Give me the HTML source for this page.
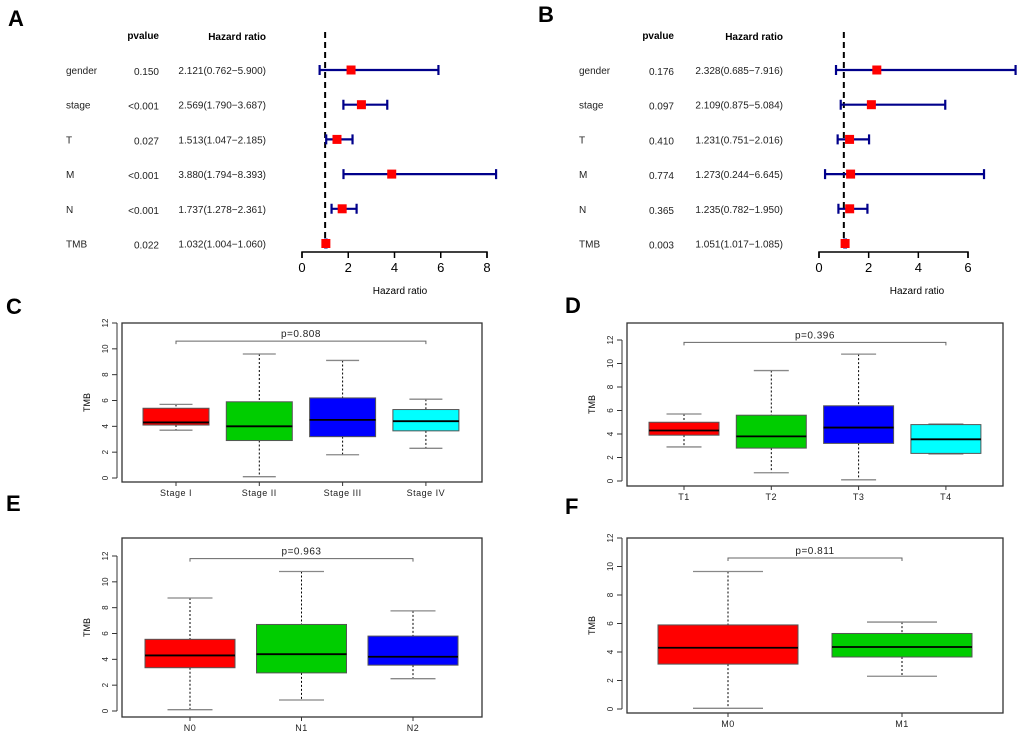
<!DOCTYPE html>
<html><head><meta charset="utf-8"><style>
body{margin:0;background:#fff;}
svg{display:block;font-family:"Liberation Sans",Arial,sans-serif;}
</style></head><body>
<svg id="fig" width="1020" height="735" viewBox="0 0 1020 735" xmlns="http://www.w3.org/2000/svg">
<g font-weight="bold" font-size="22" fill="#000">
<text x="8" y="26">A</text>
<text x="538" y="22">B</text>
<text x="6" y="314">C</text>
<text x="565" y="313">D</text>
<text x="6" y="511">E</text>
<text x="565" y="514">F</text>
</g>
</svg>
<script>
const NS="http://www.w3.org/2000/svg";
const svg=document.getElementById('fig');
function mk(tag,attrs,parent,text){const e=document.createElementNS(NS,tag);for(const k in attrs)e.setAttribute(k,attrs[k]);if(text!==undefined)e.textContent=text;(parent||svg).appendChild(e);return e;}

// ---- Forest A data ----
const varsA=["gender","stage","T","M","N","TMB"];
const pA=["0.150","<0.001","0.027","<0.001","<0.001","0.022"];
const hrA=[2.121,2.569,1.513,3.880,1.737,1.032];
const loA=[0.762,1.790,1.047,1.794,1.278,1.004];
const hiA=[5.900,3.687,2.185,8.393,2.361,1.060];
const ticksA=[0,2,4,6,8];
// ---- Forest B data ----
const varsB=["gender","stage","T","M","N","TMB"];
const pB=["0.176","0.097","0.410","0.774","0.365","0.003"];
const hrB=[2.328,2.109,1.231,1.273,1.235,1.051];
const loB=[0.685,0.875,0.751,0.244,0.782,1.017];
const hiB=[7.916,5.084,2.016,6.645,1.950,1.085];
const ticksB=[0,2,4,6];

function fmt(v){return v.toFixed(3);}
function forest(o){
  const g=mk('g',{});
  
  
  const sx=v=>o.x0+(v-o.t0)*(o.x1-o.x0)/(o.t1-o.t0);
  const rowY=i=>o.y0+i*o.dy;
  let h=mk('text',{x:o.pRight,y:39,'font-size':10,'font-weight':'bold','text-anchor':'end'},g,'pvalue');
  
  h=mk('text',{x:o.hrRight,y:40,'font-size':10,'font-weight':'bold','text-anchor':'end'},g,'Hazard ratio');
  
  const dl=mk('line',{x1:sx(1),x2:sx(1),y1:32,y2:o.axisY,stroke:'#000','stroke-width':2,'stroke-dasharray':'6,4'},g);
  
  o.vars.forEach((v,i)=>{
    const y=rowY(i);
    let t=mk('text',{x:o.nameX,y:y+4,'font-size':10,fill:'#222'},g,v);
    
    t=mk('text',{x:o.pRight,y:y+5,'font-size':10,fill:'#222','text-anchor':'end'},g,o.p[i]);
    
    t=mk('text',{x:o.hrRight,y:y+4,'font-size':10,fill:'#222','text-anchor':'end'},g,fmt(o.hr[i])+'('+fmt(o.lo[i])+'\u2212'+fmt(o.hi[i])+')');
    
    const a=sx(o.lo[i]),b=sx(o.hi[i]);
    const ci=mk('path',{d:`M${a},${y}H${b}M${a},${y-5}V${y+5}M${b},${y-5}V${y+5}`,stroke:'#00008B','stroke-width':2.2,fill:'none'},g);
    
    const pt=mk('rect',{x:sx(o.hr[i])-4.5,y:y-4.5,width:9,height:9,fill:'#FF0000'},g);
    
  });
  const ax=mk('path',{d:`M${sx(o.t0)},${o.axisY+6}V${o.axisY}H${sx(o.t1)}V${o.axisY+6}`,stroke:'#000','stroke-width':1.5,fill:'none'},g);
  
  o.ticks.forEach(t=>{
    const l=mk('line',{x1:sx(t),x2:sx(t),y1:o.axisY,y2:o.axisY+6,stroke:'#000','stroke-width':1.5},g);
    
    const tx=mk('text',{x:sx(t),y:o.axisY+20,'font-size':13,'text-anchor':'middle'},g,String(t));
    
  });
  const xl=mk('text',{x:o.labelX,y:o.axisY+42,'font-size':10,'text-anchor':'middle'},g,'Hazard ratio');
  
}
forest({name:'forest-plot-a',vars:varsA,p:pA,hr:hrA,lo:loA,hi:hiA,ticks:ticksA,t0:0,t1:8,x0:302,x1:487,axisY:252,y0:70,dy:34.7,nameX:66,pRight:159,hrRight:266,labelX:400});
forest({name:'forest-plot-b',vars:varsB,p:pB,hr:hrB,lo:loB,hi:hiB,ticks:ticksB,t0:0,t1:6,x0:819,x1:968,axisY:252,y0:70,dy:34.7,nameX:579,pRight:674,hrRight:783,labelX:917});

// ---- Box plot data ----
const catsC=["Stage I","Stage II","Stage III","Stage IV"];
const q1C=[4.1,2.9,3.2,3.65], medC=[4.3,4.0,4.5,4.4], q3C=[5.4,5.9,6.2,5.3], minC=[3.7,0.1,1.8,2.3], maxC=[5.7,9.6,9.1,6.1];
const catsD=["T1","T2","T3","T4"];
const q1D=[3.9,2.8,3.2,2.35], medD=[4.3,3.8,4.55,3.55], q3D=[5.0,5.6,6.4,4.8], minD=[2.9,0.7,0.1,2.3], maxD=[5.7,9.4,10.8,4.85];
const catsE=["N0","N1","N2"];
const q1E=[3.35,2.95,3.55], medE=[4.3,4.4,4.2], q3E=[5.55,6.7,5.8], minE=[0.1,0.85,2.5], maxE=[8.75,10.8,7.75];
const catsF=["M0","M1"];
const q1F=[3.15,3.65], medF=[4.3,4.35], q3F=[5.9,5.3], minF=[0.05,2.3], maxF=[9.65,6.1];
const colors4=["#FF0000","#00CD00","#0000FF","#00FFFF"];
const yTicks=[0,2,4,6,8,10,12];

function boxplot(o){
  const g=mk('g',{});
  
  
  const sy=v=>o.y0+(o.y12-o.y0)*v/12;
  const n=o.cats.length;
  const step=(o.bx1-o.bx0)/n;
  const sx=i=>o.cx0+i*o.cstep;
  const frame=mk('rect',{x:o.bx0,y:o.by0,width:o.bx1-o.bx0,height:o.by1-o.by0,fill:'none',stroke:'#333','stroke-width':1.3},g);
  
  const yax=mk('line',{x1:o.axX,x2:o.axX,y1:sy(0),y2:sy(12),stroke:'#333'},g);
  
  yTicks.forEach(t=>{
    const l=mk('line',{x1:o.axX-5,x2:o.axX,y1:sy(t),y2:sy(t),stroke:'#333'},g);
    
    const tx=mk('text',{x:0,y:0,'font-size':8,'text-anchor':'middle',fill:'#222',transform:`translate(${o.axX-9},${sy(t)}) rotate(-90)`},g,String(t));
    
  });
  const yt=mk('text',{x:0,y:0,'font-size':9,'text-anchor':'middle',transform:`translate(${o.axX-27},${(o.by0+o.by1)/2}) rotate(-90)`},g,'TMB');
  
  o.cats.forEach((c,i)=>{
    const x=sx(i),hw=o.hw;
    const wl=mk('path',{d:`M${x},${sy(o.max[i])}V${sy(o.q3[i])}M${x},${sy(o.q1[i])}V${sy(o.min[i])}`,stroke:'#000','stroke-dasharray':'2,2',fill:'none'},g);
    
    const cp=mk('path',{d:`M${x-hw/2},${sy(o.max[i])}H${x+hw/2}M${x-hw/2},${sy(o.min[i])}H${x+hw/2}`,stroke:'#888','stroke-width':1.3,fill:'none'},g);
    
    const b=mk('rect',{x:x-hw,y:sy(o.q3[i]),width:2*hw,height:sy(o.q1[i])-sy(o.q3[i]),fill:colors4[i],stroke:'#555','stroke-width':1},g);
    
    const m=mk('line',{x1:x-hw,x2:x+hw,y1:sy(o.med[i]),y2:sy(o.med[i]),stroke:'#000','stroke-width':1.8},g);
    
    const xt=mk('line',{x1:x,x2:x,y1:o.by1,y2:o.by1+4,stroke:'#333'},g);
    
    const lb=mk('text',{x:x,y:o.by1+14,'font-size':9,'text-anchor':'middle',fill:'#222','letter-spacing':'0.5'},g,c);
    
  });
  const a=sx(0),b=sx(n-1),by=sy(o.brY);
  const br=mk('path',{d:`M${a},${by+3}V${by}H${b}V${by+3}`,stroke:'#666',fill:'none'},g);
  
  const pt=mk('text',{x:(a+b)/2,y:by-4,'font-size':10,'text-anchor':'middle',fill:'#222','letter-spacing':'0.5'},g,o.p);
  
}
boxplot({name:'boxplot-stage',cats:catsC,q1:q1C,med:medC,q3:q3C,min:minC,max:maxC,bx0:122,bx1:482,by0:323,by1:482,y0:478,y12:323,axX:117,cx0:176,cstep:83.3,hw:33,brY:10.6,p:'p=0.808'});
boxplot({name:'boxplot-t',cats:catsD,q1:q1D,med:medD,q3:q3D,min:minD,max:maxD,bx0:627,bx1:1003,by0:323,by1:486,y0:481,y12:340,axX:622,cx0:684,cstep:87.3,hw:35,brY:11.8,p:'p=0.396'});
boxplot({name:'boxplot-n',cats:catsE,q1:q1E,med:medE,q3:q3E,min:minE,max:maxE,bx0:122,bx1:482,by0:538,by1:717,y0:711,y12:556,axX:117,cx0:190,cstep:111.5,hw:45,brY:11.8,p:'p=0.963'});
boxplot({name:'boxplot-m',cats:catsF,q1:q1F,med:medF,q3:q3F,min:minF,max:maxF,bx0:627,bx1:1003,by0:538,by1:713,y0:709,y12:538,axX:622,cx0:728,cstep:174,hw:70,brY:10.6,p:'p=0.811'});
</script>
</body></html>
